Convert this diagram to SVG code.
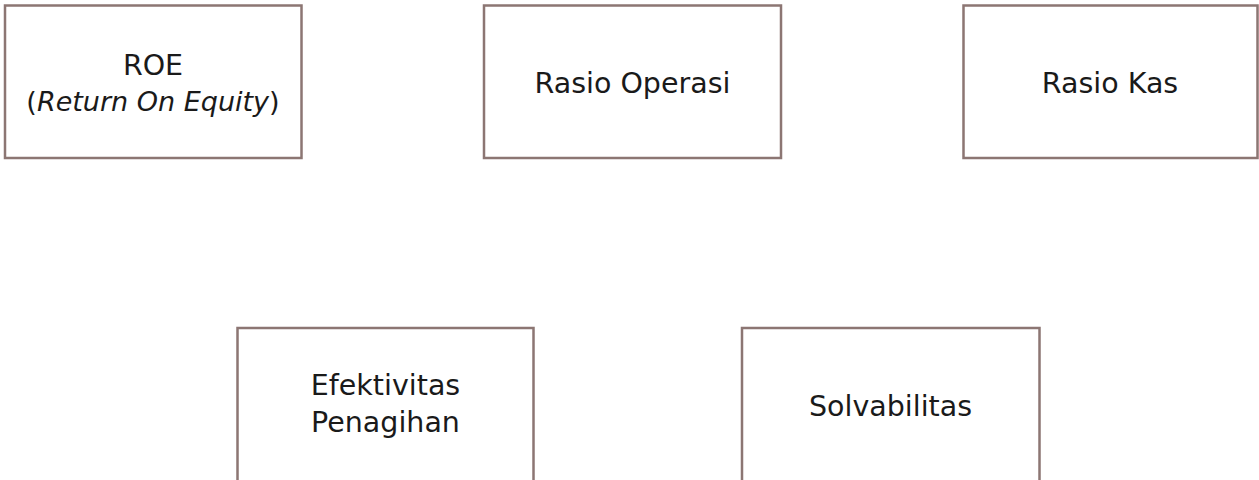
<svg xmlns="http://www.w3.org/2000/svg" width="1259" height="480" viewBox="0 0 1259 480">
<style>
.box{fill:#fff;stroke:#8c7673;stroke-width:2.5}
.t{font-family:"DejaVu Sans","Liberation Sans",sans-serif;font-size:28.5px;fill:#1a1a1a;text-anchor:middle}
.sub{font-size:27px}
</style>
<rect width="1259" height="480" fill="#fff"/>
<g id="connectors"></g>
<g id="node-roe">
<rect class="box" x="5" y="5.5" width="296.5" height="152.5"/>
<text class="t" x="153" y="75">ROE</text>
<text class="t sub" x="153" y="111">(<tspan font-style="italic">Return On Equity</tspan>)</text>
</g>
<g id="node-rasio-operasi">
<rect class="box" x="484" y="5.5" width="297" height="152.5"/>
<text class="t" x="632.5" y="93">Rasio Operasi</text>
</g>
<g id="node-rasio-kas">
<rect class="box" x="963.5" y="5.5" width="294" height="152.5"/>
<text class="t" x="1110" y="93">Rasio Kas</text>
</g>
<g id="node-efektivitas">
<rect class="box" x="237.5" y="328" width="296" height="160"/>
<text class="t" x="385.5" y="395">Efektivitas</text>
<text class="t" x="385.5" y="432">Penagihan</text>
</g>
<g id="node-solvabilitas">
<rect class="box" x="742" y="328" width="297.5" height="160"/>
<text class="t" x="890.5" y="416">Solvabilitas</text>
</g>
</svg>
